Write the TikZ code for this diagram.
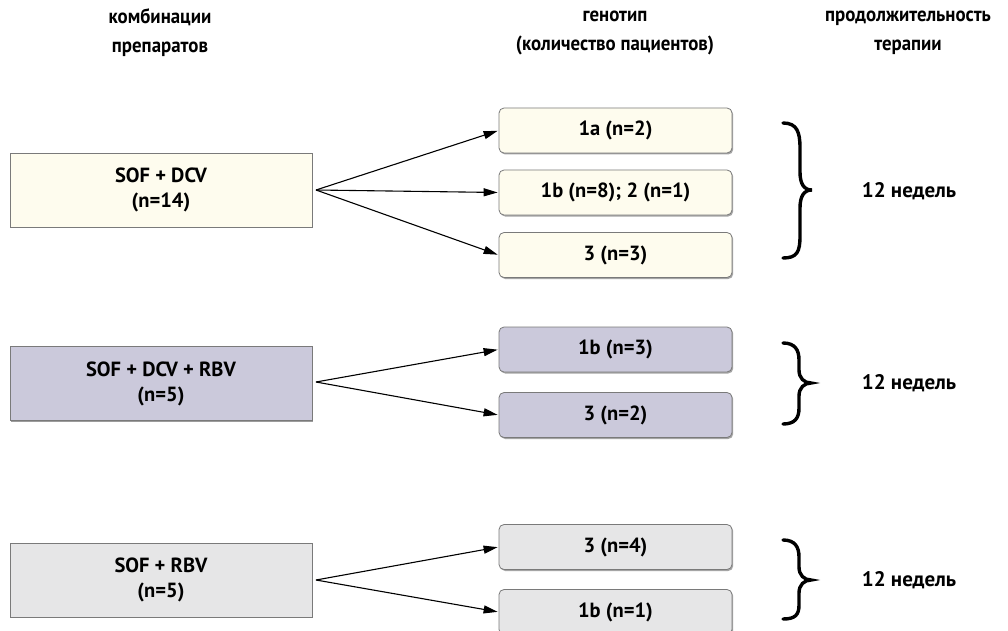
\documentclass[tikz,border=0pt]{standalone}
\usepackage{fontspec}
\setmainfont{PT Sans}
\newfontfamily\hdrfont{PT Sans}[FakeStretch=0.92]
\usetikzlibrary{arrows.meta,shadows}
\definecolor{yfill}{HTML}{FEFCEE}
\definecolor{pfill}{HTML}{CBC9DB}
\definecolor{gfill}{HTML}{E6E6E7}
\definecolor{bord}{HTML}{7A7A7A}
\tikzset{
  combo/.style={draw=bord, line width=0.8pt, minimum width=302pt, minimum height=74pt,
    align=center, inner sep=0pt, font=\bfseries\fontsize{20.5}{25}\selectfont,
    drop shadow={shadow xshift=1.2pt, shadow yshift=-1.2pt, opacity=0.55, fill=black!70}},
  geno/.style={draw=bord, line width=0.8pt, rounded corners=5pt, minimum width=233pt, minimum height=45pt,
    inner sep=0pt, font=\bfseries\fontsize{20.5}{24}\selectfont,
    drop shadow={shadow xshift=1.2pt, shadow yshift=-1.5pt, opacity=0.5, fill=black!70}},
  hdr/.style={align=center, font=\hdrfont\bfseries\fontsize{20.5}{29}\selectfont},
  dur/.style={font=\bfseries\fontsize{21}{24}\selectfont},
  arr/.style={-{Triangle[length=14pt,width=8pt]}, line width=1.1pt, shorten >=1pt},
  brc/.style={line width=3.4pt, line cap=round},
}
\begin{document}
\begin{tikzpicture}[x=1pt,y=-1pt]
\useasboundingbox[fill=white] (0,0) rectangle (1008,631);
% headers
\node[hdr] (h1) at (160,33) {комбинации\\препаратов};
\node[hdr] (h2) at (615,33) {генотип\\(количество пациентов)};
\node[hdr] (h3) at (908,33) {продолжительность\\терапии};
% left boxes
\node[combo, fill=yfill] (c1) at (161,190) {SOF + DCV\\(n=14)};
\node[combo, fill=pfill] (c2) at (161,383.5) {SOF + DCV + RBV\\(n=5)};
\node[combo, fill=gfill] (c3) at (161,580) {SOF + RBV\\(n=5)};
% right boxes
\node[geno, fill=yfill] (g1) at (615.5,130.5) {1a (n=2)};
\node[geno, fill=yfill] (g2) at (615.5,192.5) {1b (n=8); 2 (n=1)};
\node[geno, fill=yfill] (g3) at (615.5,255) {3 (n=3)};
\node[geno, fill=pfill] (g4) at (615.5,349.5) {1b (n=3)};
\node[geno, fill=pfill] (g5) at (615.5,415) {3 (n=2)};
\node[geno, fill=gfill] (g6) at (615.5,547) {3 (n=4)};
\node[geno, fill=gfill] (g7) at (615.5,612) {1b (n=1)};
% convergence points
\coordinate (o1) at (316,190);
\coordinate (o2) at (316,382);
\coordinate (o3) at (316,580);
\draw[arr] (o1) -- (g1.west);
\draw[arr] (o1) -- (g2.west);
\draw[arr] (o1) -- (g3.west);
\draw[arr] (o2) -- (g4.west);
\draw[arr] (o2) -- (g5.west);
\draw[arr] (o3) -- (g6.west);
\draw[arr] (o3) -- (g7.west);
% braces
\draw[brc] (783,123) .. controls (797,123) and (800,132) .. (800,148) -- (800,172)
  .. controls (800,184) and (804,190) .. (812,190)
  .. controls (804,190) and (800,196) .. (800,208) -- (800,236)
  .. controls (800,252) and (797,258) .. (783,258);
\draw[brc] (783,343) .. controls (795,343) and (799,350) .. (799,360) -- (799,370)
  .. controls (799,378) and (804,383) .. (811,383)
  .. controls (804,383) and (799,388) .. (799,396) -- (799,408)
  .. controls (799,418) and (795,424) .. (783,424);
\draw[brc] (783,540) .. controls (795,540) and (799,547) .. (799,557) -- (799,567)
  .. controls (799,575) and (804,580) .. (811,580)
  .. controls (804,580) and (799,585) .. (799,593) -- (799,605)
  .. controls (799,615) and (795,619) .. (783,619);
% durations
\node[dur] (d1) at (909,191) {12 недель};
\node[dur] (d2) at (909,383) {12 недель};
\node[dur] (d3) at (909,580) {12 недель};
\end{tikzpicture}
\end{document}
